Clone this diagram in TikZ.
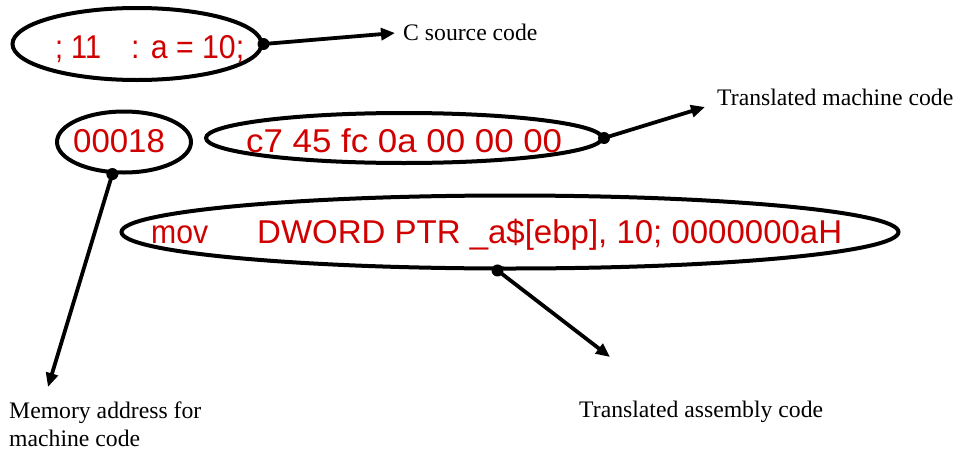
\documentclass[tikz,border=0pt]{standalone}
\usepackage{fontspec}
\setmainfont{Liberation Serif}
\newfontfamily\codefont{Liberation Sans}
\usetikzlibrary{shapes.geometric,arrows.meta}
\definecolor{codered}{RGB}{208,0,0}
\tikzset{
  ell/.style={draw, ellipse, line width=4pt, inner sep=0pt},
  code/.style={anchor=base west, inner sep=0pt, text=codered, font=\codefont\fontsize{33}{33}\selectfont},
  lbl/.style={anchor=base west, inner sep=0pt, font=\fontsize{23.7}{28}\selectfont},
  conn/.style={line width=3.8pt, -{Triangle[length=14pt,width=12pt]}},
  dot/.style={fill, circle, inner sep=0pt, minimum size=12pt}
}
\begin{document}
\begin{tikzpicture}[x=1pt,y=-1pt]
\useasboundingbox (0,0) rectangle (961,450);
% ellipses
\node[ell, minimum width=249pt, minimum height=72pt] (e1) at (137,44) {};
\node[ell, minimum width=134pt, minimum height=61pt] (e2) at (124,142) {};
\node[ell, minimum width=396pt, minimum height=50pt] (e3) at (404,138) {};
\node[ell, minimum width=777pt, minimum height=73pt] (e4) at (510,232) {};
% code texts
\node[code] (t1a) at (55,58) {\resizebox{46pt}{\height}{; 11}};
\node[code] (t1b) at (131,58) {\resizebox{113pt}{\height}{: a = 10;}};
\node[code] (t2) at (73,152) {00018};
\node[code] (t3) at (246,152) {\resizebox{316pt}{\height}{c7 45 fc 0a 00 00 00}};
\node[code] (t4a) at (151,243) {\resizebox{57pt}{\height}{mov}};
\node[code] (t4b) at (257,243) {\resizebox{585pt}{\height}{DWORD PTR \_a\$[ebp], 10; 0000000aH}};
% dots
\node[dot] (d1) at (e1.east) {};
\node[dot] (d2) at (e2.250) {};
\node[dot] (d3) at (e3.east) {};
\node[dot] (d4) at (e4.252) {};
% labels
\node[lbl] (l1) at (403,40) {C source code};
\node[lbl] (l2) at (717,105) {Translated machine code};
\node[lbl] (l3) at (9,418) {Memory address for};
\node[lbl] (l3b) at (9,446) {machine code};
\node[lbl] (l4) at (579,417) {Translated assembly code};
% arrow ends
\coordinate (a1) at (395,33);
\coordinate (a2) at (705,107);
\coordinate (a3) at (48,387);
\coordinate (a4) at (610,357);
\draw[conn] (d1.center) -- (a1);
\draw[conn] (d3.center) -- (a2);
\draw[conn] (d2.center) -- (a3);
\draw[conn] (d4.center) -- (a4);
\end{tikzpicture}
\end{document}
